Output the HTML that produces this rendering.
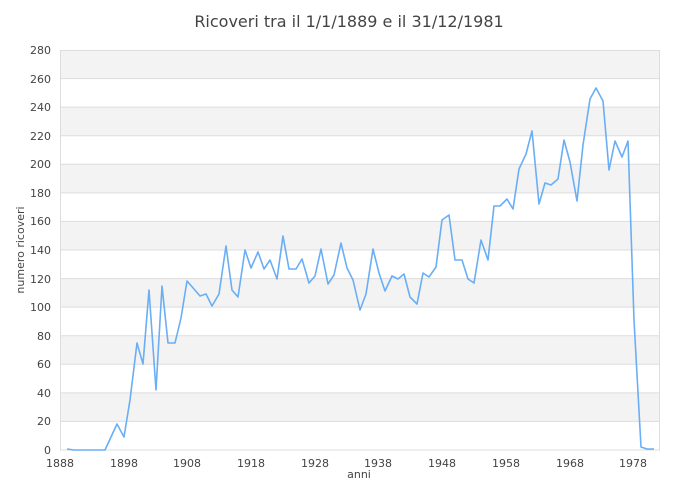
<!DOCTYPE html>
<html><head><meta charset="utf-8"><style>
body{margin:0;background:#fff;}
svg{display:block;font-family:"DejaVu Sans","Liberation Sans",sans-serif;}
</style></head><body>
<svg width="700" height="500" xmlns="http://www.w3.org/2000/svg">
<text x="349" y="27" text-anchor="middle" font-size="16" fill="#444">Ricoveri tra il 1/1/1889 e il 31/12/1981</text>
<g fill="#f3f3f3">
<rect x="60" y="50" width="600" height="28.57"/>
<rect x="60" y="107.14" width="600" height="28.57"/>
<rect x="60" y="164.29" width="600" height="28.57"/>
<rect x="60" y="221.43" width="600" height="28.57"/>
<rect x="60" y="278.57" width="600" height="28.57"/>
<rect x="60" y="335.71" width="600" height="28.57"/>
<rect x="60" y="392.86" width="600" height="28.57"/>
</g>
<g stroke="#dddddd" stroke-width="1">
<line x1="60" x2="660" y1="50.5" y2="50.5"/><line x1="60" x2="660" y1="78.6" y2="78.6"/>
<line x1="60" x2="660" y1="107.1" y2="107.1"/><line x1="60" x2="660" y1="135.7" y2="135.7"/>
<line x1="60" x2="660" y1="164.3" y2="164.3"/><line x1="60" x2="660" y1="192.9" y2="192.9"/>
<line x1="60" x2="660" y1="221.4" y2="221.4"/><line x1="60" x2="660" y1="250" y2="250"/>
<line x1="60" x2="660" y1="278.6" y2="278.6"/><line x1="60" x2="660" y1="307.1" y2="307.1"/>
<line x1="60" x2="660" y1="335.7" y2="335.7"/><line x1="60" x2="660" y1="364.3" y2="364.3"/>
<line x1="60" x2="660" y1="392.9" y2="392.9"/><line x1="60" x2="660" y1="421.4" y2="421.4"/>
<line x1="60" x2="660" y1="450" y2="450"/>
<line x1="60.5" x2="60.5" y1="50" y2="450"/><line x1="659.5" x2="659.5" y1="50" y2="450"/>
</g>
<g font-size="11" fill="#444" text-anchor="end">
<text x="51" y="54">280</text><text x="51" y="83">260</text><text x="51" y="111">240</text>
<text x="51" y="140">220</text><text x="51" y="168">200</text><text x="51" y="197">180</text>
<text x="51" y="225">160</text><text x="51" y="254">140</text><text x="51" y="283">120</text>
<text x="51" y="311">100</text><text x="51" y="340">80</text><text x="51" y="368">60</text>
<text x="51" y="397">40</text><text x="51" y="425">20</text><text x="51" y="454">0</text>
</g>
<g font-size="11" fill="#444" text-anchor="middle">
<text x="60" y="467">1888</text><text x="124" y="467">1898</text><text x="187" y="467">1908</text>
<text x="251" y="467">1918</text><text x="315" y="467">1928</text><text x="378" y="467">1938</text>
<text x="442" y="467">1948</text><text x="506" y="467">1958</text><text x="570" y="467">1968</text>
<text x="633" y="467">1978</text>
</g>
<text x="359" y="478" text-anchor="middle" font-size="11" fill="#444">anni</text>
<text transform="translate(24,250) rotate(-90)" text-anchor="middle" font-size="11" fill="#444">numero ricoveri</text>
<polyline fill="none" stroke="#6aaef5" stroke-width="1.6" stroke-linejoin="round" points="67,449 74,450 86,450 105,450 117,424 124,437 130,400 137,343 143,364 149,290 156,390 162,286 168,343 175,343 181,318 187,281 194,289 200,296 206,294 212,306 219,294 226,246 232,290 238,297 245,250 251,268 258,252 264,269 270,260 277,279 283,236 289,269 296,269 302,259 309,283 315,276 321,249 328,284 334,275 341,243 347,268 353,280 360,310 366,294 373,249 379,273 385,291 392,276 398,279 404,274 410,297 417,304 423,273 429,277 436,267 442,220 449,215 455,260 462,260 468,279 474,283 481,240 488,260 494,206 500,206 507,199 513,209 519,169 526,154 532,131 539,204 545,183 551,185 558,179 564,140 570,162 577,201 583,145 590,99 596,88 603,101 609,170 615,141 622,157 628,141 634,320 641,447 647,449 654,449"/>
</svg>
</body></html>
